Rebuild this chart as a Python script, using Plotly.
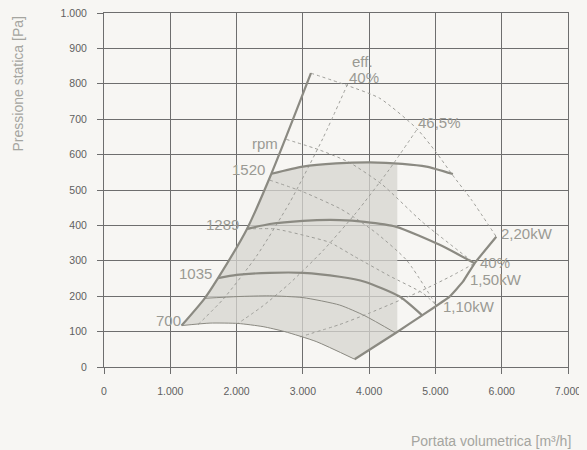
import numpy as np
import plotly.graph_objects as go

# ---------------- data ----------------
x_ticks = [0, 1000, 2000, 3000, 4000, 5000, 6000, 7000]
x_ticktext = ["0", "1.000", "2.000", "3.000", "4.000", "5.000", "6.000", "7.000"]
y_ticks = [0, 100, 200, 300, 400, 500, 600, 700, 800, 900, 1000]
y_ticktext = ["0", "100", "200", "300", "400", "500", "600", "700", "800", "900", "1.000"]

# left (stall) boundary
left_q = [1170, 1519, 1720, 2157, 2525, 3122]
left_p = [117, 194, 251, 390, 546, 830]
# right boundary
right_q = [3781, 4400, 4800, 5214, 5415, 5591, 5918]
right_p = [22, 96, 146, 199, 241, 293, 368]

# rpm curves
rpm700_q = [1170, 1600, 2022, 2400, 2726, 3200, 3781]
rpm700_p = [117, 124, 123, 114, 100, 72, 22]
rpm870_q = [1519, 2022, 2500, 3002, 3555, 3932, 4400]
rpm870_p = [194, 199, 201, 196, 175, 145, 96]
rpm1035_q = [1720, 2000, 2500, 3002, 3555, 3932, 4460, 4800]
rpm1035_p = [251, 260, 266, 266, 255, 241, 199, 146]
rpm1289_q = [2157, 2500, 3002, 3555, 3932, 4410, 5064, 5591]
rpm1289_p = [390, 404, 413, 415, 410, 396, 345, 293]
rpm1520_q = [2525, 3002, 3500, 4008, 4500, 4863, 5264]
rpm1520_p = [546, 566, 575, 578, 574, 566, 545]

# efficiency lines (dashed)
eff40a_q = [3675, 3300, 2800, 2300, 1800, 1415]
eff40a_p = [799, 645, 464, 313, 192, 119]
eff465_q = [4714, 4300, 3800, 3300, 2800, 2400, 2021]
eff465_p = [669, 557, 435, 328, 236, 173, 123]
eff40b_q = [2956, 3555, 4000, 4762, 5250, 5591]
eff40b_p = [85, 120, 152, 213, 258, 293]

# power lines (dashed)
p220_q = [3122, 3659, 4161, 4715, 5017, 5259, 5545, 5918]
p220_p = [830, 796, 759, 674, 605, 542, 472, 368]
p150_q = [2751, 3253, 3700, 4200, 4800, 5591]
p150_p = [643, 613, 578, 515, 410, 293]
p110_q = [2500, 3000, 3555, 3756, 4111, 4564, 5014]
p110_p = [528, 495, 448, 425, 378, 302, 174]
pext_q = [2157, 2575, 3100, 3404, 3781, 4300, 4814, 5014]
pext_p = [390, 390, 368, 352, 312, 258, 208, 174]

shade_limit_q = 4425  # right edge of the shaded working area

# ---------------- styles ----------------
BG = "#f7f6f3"
GRID = "#6e6e6e"
SOLID = "#8b8a82"
DASH = "#9e9e99"
LABEL = "#9a9a93"
FONT = "Liberation Sans, Arial, sans-serif"

fig = go.Figure()

# shaded working area built from the boundary arrays
i1520 = left_q.index(rpm1520_q[0])
top_q = [q for q in rpm1520_q if q < shade_limit_q]
top_p = rpm1520_p[:len(top_q)]
top_end = float(np.interp(shade_limit_q, rpm1520_q, rpm1520_p))
bot_end = float(np.interp(shade_limit_q, right_q, right_p))
rq_in = [q for q in right_q if q < shade_limit_q]
rp_in = right_p[:len(rq_in)]
poly_q = (left_q[:i1520 + 1] + top_q[1:] + [shade_limit_q, shade_limit_q]
          + rq_in[::-1] + rpm700_q[::-1][1:])
poly_p = (left_p[:i1520 + 1] + top_p[1:] + [top_end, bot_end]
          + rp_in[::-1] + rpm700_p[::-1][1:])
fig.add_trace(go.Scatter(x=poly_q, y=poly_p, mode="lines", fill="toself",
                         fillcolor="rgba(214,213,208,0.76)",
                         line=dict(width=0), hoverinfo="skip", showlegend=False))

def add_line(q, p, color, width, dash=None, smooth=0.6):
    fig.add_trace(go.Scatter(
        x=q, y=p, mode="lines",
        line=dict(color=color, width=width, dash=dash, shape="spline", smoothing=smooth),
        hoverinfo="skip", showlegend=False))

for q, p in [(eff40a_q, eff40a_p), (eff465_q, eff465_p), (eff40b_q, eff40b_p),
             (p220_q, p220_p), (p150_q, p150_p), (p110_q, p110_p), (pext_q, pext_p)]:
    add_line(q, p, DASH, 1, dash="3px,3px")

add_line(rpm700_q, rpm700_p, SOLID, 1)
add_line(rpm870_q, rpm870_p, SOLID, 1)
add_line(rpm1035_q, rpm1035_p, SOLID, 2.2)
add_line(rpm1289_q, rpm1289_p, SOLID, 2.2)
add_line(rpm1520_q, rpm1520_p, SOLID, 2.2)
add_line(left_q, left_p, SOLID, 2.2, smooth=0.7)
add_line(right_q, right_p, SOLID, 2.2, smooth=0.3)

# ---------------- labels ----------------
def label(x, y, text, xanchor, yanchor, xshift=0, yshift=0):
    fig.add_annotation(x=x, y=y, text=text, showarrow=False, xanchor=xanchor,
                       yanchor=yanchor, xshift=xshift, yshift=yshift,
                       font=dict(family=FONT, size=15, color=LABEL))

label(rpm700_q[0], rpm700_p[0], "700", "right", "middle", 1, 5)
label(rpm1035_q[0], rpm1035_p[0], "1035", "right", "middle", -4, 5)
label(rpm1289_q[0], rpm1289_p[0], "1289", "right", "middle", -6, 4)
label(rpm1520_q[0], rpm1520_p[0], "1520", "right", "middle", -4, 4)
label(p150_q[0], p150_p[0], "rpm", "right", "middle", -6, -4)
label(eff40a_q[0], eff40a_p[0], "40%", "left", "bottom", -1, -4)
label(eff40a_q[0], eff40a_p[0], "eff.", "left", "bottom", 2, 12)
label(eff465_q[0], eff465_p[0], "46,5%", "left", "bottom", 0, -3)
label(p220_q[-1], p220_p[-1], "2,20kW", "left", "middle", 3, 3)
label(eff40b_q[-1], eff40b_p[-1], "40%", "left", "middle", 3, 1)
label(p150_q[-1], p150_p[-1], "1,50kW", "left", "middle", -7, -16)
label(p110_q[-1], p110_p[-1], "1,10kW", "left", "middle", 5, -1)

# axis titles
fig.add_annotation(xref="paper", yref="paper", x=-0.1875, y=1, xanchor="center",
                   yanchor="top", textangle=-90, showarrow=False, yshift=-2,
                   text="Pressione statica [Pa]",
                   font=dict(family=FONT, size=14, color="#a5a5a0"))
fig.add_annotation(xref="paper", yref="paper", x=1, y=-0.209, xanchor="right",
                   yanchor="middle", xshift=5, showarrow=False,
                   text="Portata volumetrica [m³/h]",
                   font=dict(family=FONT, size=14, color="#a5a5a0"))

axis_common = dict(showgrid=True, gridcolor=GRID, gridwidth=1, zeroline=False,
                   showline=True, linecolor=GRID, linewidth=1, mirror=True,
                   ticks="outside", ticklen=6, tickcolor=GRID, tickwidth=1,
                   tickfont=dict(family=FONT, size=10.5, color="#5f5f5f"),
                   ticklabelstandoff=8, ticklabeloverflow="allow",
                   automargin=False, fixedrange=True)

# the page body adds an 8px margin, so the figure is sized to end at the window edge
fig.update_layout(
    width=579, height=442,
    margin=dict(l=96, r=19, t=5, b=83),
    paper_bgcolor=BG, plot_bgcolor=BG,
    xaxis=dict(range=[0, 7000], tickvals=x_ticks, ticktext=x_ticktext, **axis_common),
    yaxis=dict(range=[0, 1000], tickvals=y_ticks, ticktext=y_ticktext, **axis_common),
    showlegend=False,
)

fig.write_html(
    "out.html",
    config={"displayModeBar": False},
    post_script="document.body.style.background='%s';"
                "document.documentElement.style.background='%s';" % (BG, BG),
)
